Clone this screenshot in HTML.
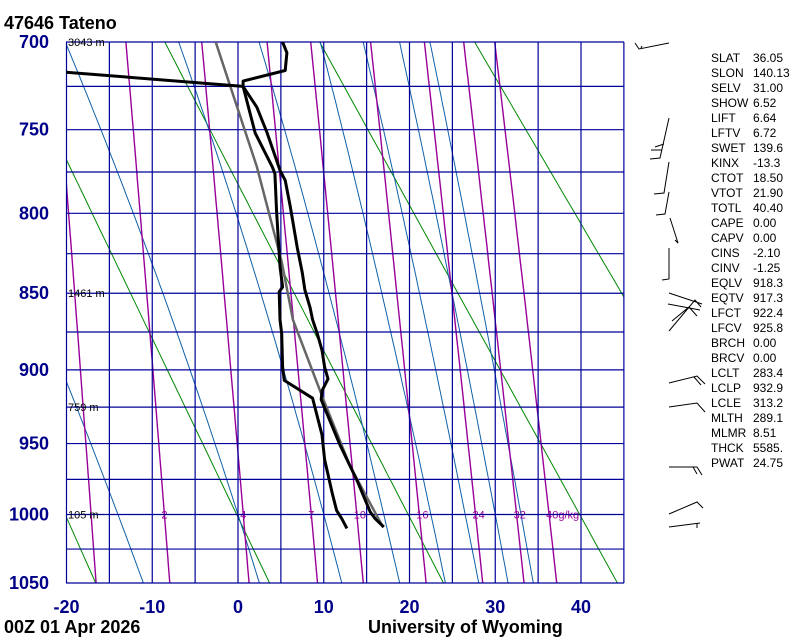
<!DOCTYPE html>
<html><head><meta charset="utf-8"><title>47646 Tateno</title>
<style>
html,body{margin:0;padding:0;background:#fff;}
svg{display:block;font-family:"Liberation Sans",sans-serif;}
</style></head>
<body>
<svg id="chart" width="800" height="640" viewBox="0 0 800 640" xmlns="http://www.w3.org/2000/svg">
<rect x="0" y="0" width="800" height="640" fill="#fff"/>
<text x="4" y="29" font-size="18" font-weight="bold" fill="#000">47646  Tateno</text>
<text x="4" y="633" font-size="18" font-weight="bold" fill="#000">00Z 01 Apr 2026</text>
<text x="368" y="633" font-size="18" font-weight="bold" fill="#000">University of Wyoming</text>
<defs><clipPath id="plotclip"><rect x="66" y="42" width="558" height="541"/></clipPath></defs>
<g id="bg" clip-path="url(#plotclip)"></g>
<g id="grid"></g>
<g id="profiles" clip-path="url(#plotclip)"></g>
<g id="labels"></g>
<g id="barbs" stroke="#000" stroke-width="1" fill="none"></g>
<g id="stats" font-size="12" fill="#000"></g>
</svg>
<script>
// ---------- data ----------
const pressureTicks = [700,750,800,850,900,950,1000,1050];
const pressureGrid = [700,725,750,775,800,825,850,875,900,925,950,975,1000,1025,1050];
const tempTicks = [-20,-10,0,10,20,30,40];
const tempGrid = [-20,-15,-10,-5,0,5,10,15,20,25,30,35,40,45];
const dryAdiabatTheta = [253,273,293,313,333];
const moistAdiabatT1000 = [-14,0,10,17,22.5,26.5,30,33];
const mixingRatios = [1,2,4,7,10,16,24,32,40];
const mixingRatioLabels = ["","2","4","7","10","16","24","32","40g/kg"];
const heightP = [700,850,925,1000];
const heightLabels = ["3043 m","1461 m","759 m","105 m"];

const tempP = [700,706,716,722,725,737,752,774,780,796,821,837,848,859,867,877,887,898,906,914,920,951,976,998,1003,1009];
const tempT = [5.2,5.7,5.5,0.6,0.6,2.2,3.4,4.9,5.5,6.1,6.9,7.5,7.8,8.4,8.7,9.3,9.8,10.1,10.5,9.8,9.7,11.9,13.9,15.4,16.0,17.0];
const dewP = [700,725,752,772,776,799,833,846,849,867,876,898,907,919,944,961,985,997,1003,1010];
const dewT = [-64,0.6,2.0,4.0,4.3,4.5,4.9,5.2,4.8,4.9,5.1,5.2,5.4,8.7,9.8,10.1,11.0,11.5,12.1,12.7];
const parcelP = [700,725,772,830,867,919,966,1009];
const parcelT = [-2.6,-0.9,2.2,5.1,6.4,9.9,13.1,16.9];

const statNames = ["SLAT","SLON","SELV","SHOW","LIFT","LFTV","SWET","KINX","CTOT","VTOT","TOTL","CAPE","CAPV","CINS","CINV","EQLV","EQTV","LFCT","LFCV","BRCH","BRCV","LCLT","LCLP","LCLE","MLTH","MLMR","THCK","PWAT"];
const statValues = ["36.05","140.13","31.00","6.52","6.64","6.72","139.6","-13.3","18.50","21.90","40.40","0.00","0.00","-2.10","-1.25","918.3","917.3","922.4","925.8","0.00","0.00","283.4","932.9","313.2","289.1","8.51","5585.","24.75"];

const barbPaths = [
 "M635,43 L639,49 L669,43 M641,48 L642,46",
 "M669,118 L660,158 L650,159 M662,150 L651,150 M664,144 L655,147",
 "M669,162 L664,193 L654,194",
 "M669,192 L665,214 L656,215",
 "M670,218 L678,243 L675,240",
 "M669,248 L669,279 L662,280",
 "M669,293 L702,304 M668,304 L700,310 M669,331 L695,300 L701,307 M672,321 L689,307 L697,316",
 "M669,383 L697,376 L705,384 M694,377 L701,385",
 "M669,407 L697,403 L705,412",
 "M669,467 L697,467 L702,475 M693,467 L697,474",
 "M669,514 L697,502 L703,508",
 "M669,527 L700,523 M697,523 L697,528"
];

// ---------- axes ----------
const K = 0.2857;
const PA = Math.pow(700,K), PB = Math.pow(1050,K);
function yOf(p){ return 42 + 541*(Math.pow(p,K)-PA)/(PB-PA); }
function xOf(t){ return 238 + 8.575*t; }
const NS="http://www.w3.org/2000/svg";
function mk(tag, attrs, parent){ const e=document.createElementNS(NS,tag); for(const k in attrs) e.setAttribute(k,attrs[k]); parent.appendChild(e); return e; }
function esat(t){ return 6.112*Math.exp(17.67*t/(t+243.5)); }
function tdFromE(e){ const l=Math.log(e/6.112); return 243.5*l/(17.67-l); }

const bg=document.getElementById('bg'), grid=document.getElementById('grid'), prof=document.getElementById('profiles'), lab=document.getElementById('labels');

// dry adiabats
dryAdiabatTheta.forEach(th=>{
  let pts=[];
  for(let p=700;p<=1050;p+=10){ pts.push(xOf(th*Math.pow(p/1000,K)-273.15).toFixed(1)+','+yOf(p).toFixed(1)); }
  const el=mk('polyline',{points:pts.join(' '),fill:'none',stroke:'#008800','stroke-width':1},bg);
  
  
});
// moist adiabats
function moistSlope(p,T){
  const Rd=287.04, cp=1005.7, Lv=2.501e6, eps=0.622;
  const es=esat(T-273.15); const rs=eps*es/(p-es);
  return (Rd*T + Lv*rs)/(p*(cp + Lv*Lv*rs*eps/(Rd*T*T)));
}
moistAdiabatT1000.forEach(t0=>{
  let pts=[]; let T=t0+273.15;
  let up=[[1000,T]]; let p=1000;
  while(p>700){ const k1=moistSlope(p,T); const k2=moistSlope(p-0.5,T-0.5*k1); T-=k2; p-=1; up.push([p,T]); }
  T=t0+273.15; p=1000; let dn=[];
  while(p<1050){ const k1=moistSlope(p,T); const k2=moistSlope(p+0.5,T+0.5*k1); T+=k2; p+=1; dn.push([p,T]); }
  const all=up.reverse().concat(dn);
  all.forEach((q,i)=>{ if(i%5===0||i===all.length-1) pts.push(xOf(q[1]-273.15).toFixed(1)+','+yOf(q[0]).toFixed(1)); });
  const el=mk('polyline',{points:pts.join(' '),fill:'none',stroke:'#1060a8','stroke-width':1},bg);
  
  
});
// mixing ratio lines
mixingRatios.forEach((w,i)=>{
  let pts=[];
  for(let p=700;p<=1050;p+=10){ const e=w*p/(622+w); pts.push(xOf(tdFromE(e)).toFixed(1)+','+yOf(p).toFixed(1)); }
  const el=mk('polyline',{points:pts.join(' '),fill:'none',stroke:'#990099','stroke-width':1.4},bg);
  
  
  if(mixingRatioLabels[i]){
    const e=w*1000/(622+w); const x=xOf(tdFromE(e));
    const t=mk('text',{x:(x-3).toFixed(1),y:yOf(1000)+4,'font-size':11,fill:'#990099'},bg);
    t.textContent=mixingRatioLabels[i];
    
    
  }
});
// grid
tempGrid.forEach(t=>{
  const el=mk('line',{x1:xOf(t),x2:xOf(t),y1:42,y2:583,stroke:'#000099','stroke-width':1.2},grid);
  
  
});
pressureGrid.forEach(p=>{
  const el=mk('line',{x1:66,x2:624,y1:yOf(p),y2:yOf(p),stroke:'#000099','stroke-width':1.2},grid);
  
  
});
// tick labels
pressureTicks.forEach(p=>{
  const t=mk('text',{x:49,y:yOf(p)+6,'font-size':18,'font-weight':'bold',fill:'#000088','text-anchor':'end'},lab);
  t.textContent=p;
  
  
});
tempTicks.forEach(v=>{
  const t=mk('text',{x:xOf(v),y:613,'font-size':18,'font-weight':'bold',fill:'#000088','text-anchor':'middle'},lab);
  t.textContent=v;
  
  
});
heightP.forEach((p,i)=>{
  const t=mk('text',{x:68,y:yOf(p)+4,'font-size':11,fill:'#000'},lab);
  t.textContent=heightLabels[i];
  
  
});
// profiles
function line(P,T,color,w,name){
  const pts=P.map((p,i)=>xOf(T[i]).toFixed(1)+','+yOf(p).toFixed(1)).join(' ');
  const el=mk('polyline',{points:pts,fill:'none',stroke:color,'stroke-width':w,'stroke-linejoin':'round'},prof);
  
  
}
line(parcelP,parcelT,'#666666',2.5,'parcel-path');
line(dewP,dewT,'#000',3,'dewpoint-profile');
line(tempP,tempT,'#000',3,'temperature-profile');
// barbs
const barbs=document.getElementById('barbs');
barbPaths.forEach(d=>{
  const el=mk('path',{d:d},barbs);
  
  
});
// stats
const stats=document.getElementById('stats');
statNames.forEach((n,i)=>{
  const y=62+i*15;
  const a=mk('text',{x:711,y:y},stats); a.textContent=n;
  
  
  const b=mk('text',{x:753,y:y},stats); b.textContent=statValues[i];
  
  
});
</script>
</body></html>
